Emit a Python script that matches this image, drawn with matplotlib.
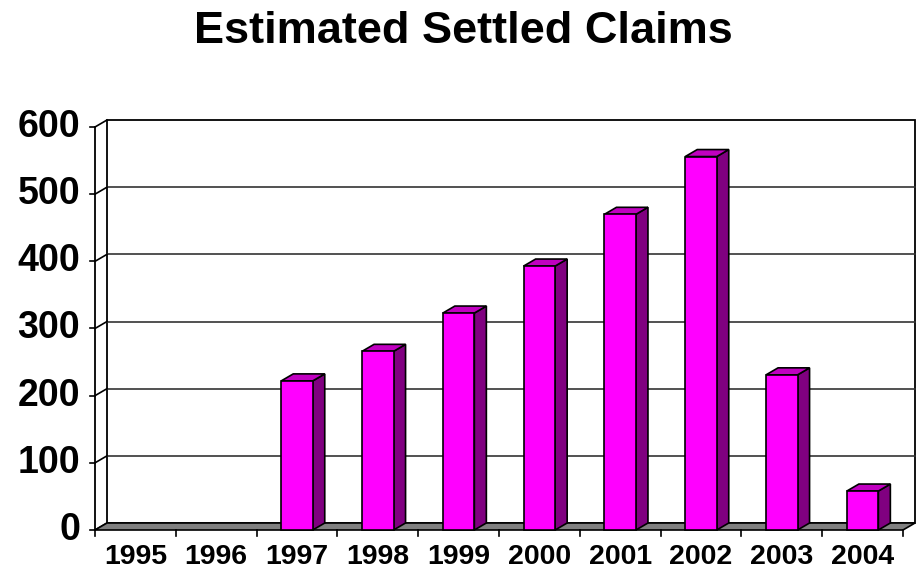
import matplotlib
matplotlib.use("Agg")
import matplotlib.pyplot as plt
from matplotlib.patches import Polygon

plt.rcParams['font.family'] = ['Liberation Sans', 'DejaVu Sans']

categories = ['1995', '1996', '1997', '1998', '1999', '2000', '2001', '2002', '2003', '2004']
values = [0, 0, 222, 266, 323, 393, 470, 556, 231, 58]
yticks = [0, 100, 200, 300, 400, 500, 600]
title = 'Estimated Settled Claims'

W, H = 921, 571
fig = plt.figure(figsize=(W / 100, H / 100), dpi=100)
left_px, right_px, bottom_px, top_px = 95, 903, 530, 127
ax = fig.add_axes([left_px / W, 1 - bottom_px / H, (right_px - left_px) / W, (bottom_px - top_px) / H])
n = len(categories)
ymax = yticks[-1]
ax.set_xlim(0, n)
ax.set_ylim(0, ymax)
ax.axis('off')

px_x = (right_px - left_px) / n      # pixels per category
px_y = (bottom_px - top_px) / ymax   # pixels per value unit

# depth offsets in data units
dx = 12 / px_x
dy = 7 / px_y

kw = dict(clip_on=False)
# back wall
ax.add_patch(Polygon([(dx, dy), (n + dx, dy), (n + dx, ymax + dy), (dx, ymax + dy)],
                     closed=True, facecolor='white', edgecolor='black', lw=1.3, zorder=1, **kw))
# gridlines on back wall
for v in yticks[1:-1]:
    ax.plot([dx, n + dx], [v + dy, v + dy], color='#333333', lw=1.2, zorder=2, **kw)
# side wall diagonals
for v in yticks:
    ax.plot([0, dx], [v, v + dy], color='black', lw=1.2, zorder=2, **kw)
# front vertical axis
ax.plot([0, 0], [0, ymax], color='black', lw=1.3, zorder=3, **kw)
for v in yticks:
    ax.plot([-5 / px_x, 0], [v, v], color='black', lw=1.2, zorder=3, **kw)
    ax.text(-15 / px_x, v, str(v), ha='right', va='center',
            fontsize=27, fontweight='bold', **kw)
# floor
ax.add_patch(Polygon([(0, 0), (n, 0), (n + dx, dy), (dx, dy)], closed=True,
                     facecolor='#808080', edgecolor='black', lw=1.2, zorder=3, **kw))
# x ticks and labels
for i in range(n + 1):
    ax.plot([i, i], [0, -6 / px_y], color='black', lw=1.2, zorder=3, **kw)
for i, c in enumerate(categories):
    ax.text(i + 0.5, -34 / px_y, c, ha='center', va='baseline',
            fontsize=20.5, fontweight='bold', **kw)

# bars
w = 0.39
for i, v in enumerate(values):
    if v <= 0:
        continue
    x0 = i + 0.5 - w / 2
    x1 = x0 + w
    front = [(x0, 0), (x1, 0), (x1, v), (x0, v)]
    side = [(x1, 0), (x1 + dx, dy), (x1 + dx, v + dy), (x1, v)]
    top = [(x0, v), (x1, v), (x1 + dx, v + dy), (x0 + dx, v + dy)]
    ax.add_patch(Polygon(side, closed=True, facecolor='#800080', edgecolor='black', lw=1.2, zorder=5, **kw))
    ax.add_patch(Polygon(top, closed=True, facecolor='#C000C0', edgecolor='black', lw=1.2, zorder=5, **kw))
    ax.add_patch(Polygon(front, closed=True, facecolor='#FF00FF', edgecolor='black', lw=1.2, zorder=6, **kw))

fig.text(463.5 / W, 1 - 43 / H, title, ha='center', va='baseline', fontsize=32.5, fontweight='bold')

fig.savefig('out.png', dpi=100)
